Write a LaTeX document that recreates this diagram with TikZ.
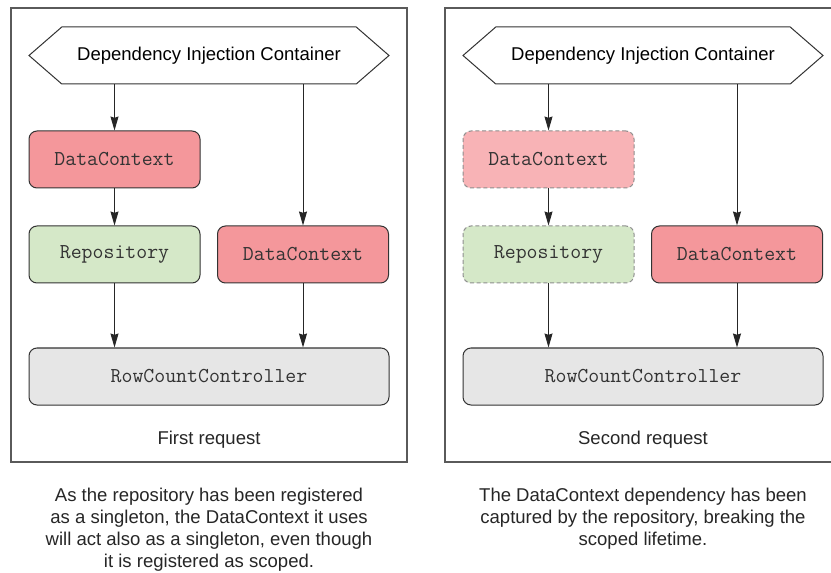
\documentclass[tikz,border=0pt]{standalone}
\usepackage{fontspec}
\setmainfont{Liberation Sans}
\usetikzlibrary{arrows.meta,positioning,shapes.symbols,calc}
\definecolor{ctxred}{HTML}{F4979B}
\definecolor{ctxpale}{HTML}{F8B3B6}
\definecolor{repogreen}{HTML}{D5E8C8}
\definecolor{ctrlgray}{HTML}{E6E6E6}
\definecolor{inkgray}{HTML}{333333}
\definecolor{dashgray}{HTML}{8E8E8E}
\definecolor{framegray}{HTML}{5A5A5A}
\tikzset{
  >={Stealth[length=10.5pt,width=6pt,inset=1pt]},
  % boxes
  dic/.style={signal,signal to=west and east,signal pointer angle=82,
              draw=inkgray,fill=white,line width=0.75pt,inner sep=0pt,
              minimum width=270pt,minimum height=42.75pt},
  comp/.style={rounded corners=6pt,draw=inkgray,line width=0.75pt,
               minimum width=128.25pt,minimum height=42.75pt,inner sep=0pt,
               text=inkgray,font=\ttfamily\fontsize{15.9}{18}\selectfont},
  ctx/.style={comp,fill=ctxred},
  repo/.style={comp,fill=repogreen},
  ctrl/.style={comp,fill=ctrlgray,minimum width=270pt},
  captured/.style={draw=dashgray,dash pattern=on 3pt off 2pt},
  % lines and texts
  wire/.style={->,draw=black!85,line width=0.75pt},
  frame/.style={draw=framegray,line width=0.9pt},
  caption/.style={align=center,text=black!85,
                  font=\fontsize{13.9}{16.5}\selectfont},
}
\begin{document}
\begin{tikzpicture}[x=0.75pt,y=-0.75pt,every node/.append style={font=\fontsize{13.9}{16.5}\selectfont}]
  \useasboundingbox[fill=white] (0,0) rectangle (831,573);
  % first request
  \draw[frame] (11,8) rectangle (407,462);
  \node[dic] (dicF) at (209,55.5) {Dependency Injection Container};
  \node[ctx] (ctxF) at (114.5,159.5) {DataContext};
  \node[repo] (repoF) at (114.5,254.5) {Repository};
  \node[ctx] (ctxFb) at (303,254.5) {DataContext};
  \node[ctrl] (rowF) at (209,376.5) {RowCountController};
  \node[caption] (reqF) at (209,440) {First request};
  \node[caption] (noteF) at (209,530) {As the repository has been registered\\
    as a singleton, the DataContext it uses\\
    will act also as a singleton, even though\\
    it is registered as scoped.};
  \draw[wire] (dicF.south -| ctxF.north) -- (ctxF.north);
  \draw[wire] (dicF.south -| ctxFb.north) -- (ctxFb.north);
  \draw[wire] (ctxF) -- (repoF);
  \draw[wire] (repoF.south) -- (repoF.south |- rowF.north);
  \draw[wire] (ctxFb.south) -- (ctxFb.south |- rowF.north);
  % second request
  \draw[frame] (445,8) rectangle (841,462);
  \node[dic] (dicS) at (643,55.5) {Dependency Injection Container};
  \node[ctx,captured,fill=ctxpale] (ctxS) at (548.5,159.5) {DataContext};
  \node[repo,captured] (repoS) at (548.5,254.5) {Repository};
  \node[ctx] (ctxSb) at (737,254.5) {DataContext};
  \node[ctrl] (rowS) at (643,376.5) {RowCountController};
  \node[caption] (reqS) at (643,440) {Second request};
  \node[caption] (noteS) at (643,519) {The DataContext dependency has been\\
    captured by the repository, breaking the\\
    scoped lifetime.};
  \draw[wire] (dicS.south -| ctxS.north) -- (ctxS.north);
  \draw[wire] (dicS.south -| ctxSb.north) -- (ctxSb.north);
  \draw[wire] (ctxS) -- (repoS);
  \draw[wire] (repoS.south) -- (repoS.south |- rowS.north);
  \draw[wire] (ctxSb.south) -- (ctxSb.south |- rowS.north);
\end{tikzpicture}
\end{document}
